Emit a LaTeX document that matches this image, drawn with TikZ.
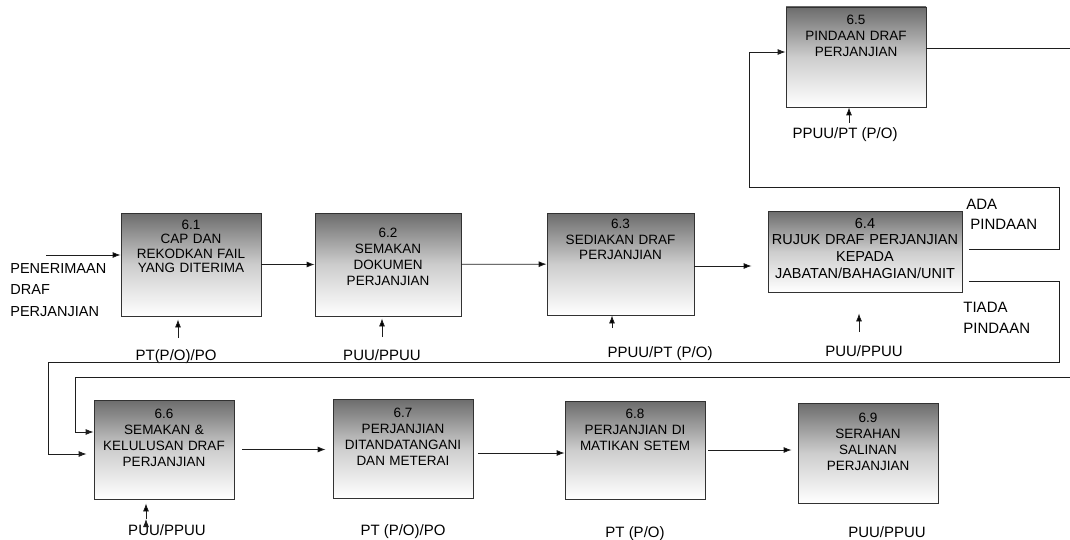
\documentclass[tikz,border=0pt]{standalone}
\usepackage{fontspec}
\setmainfont{Liberation Sans}
\usetikzlibrary{arrows.meta}

\definecolor{boxtop}{RGB}{108,108,108}
\definecolor{boxmid}{RGB}{205,205,205}
\definecolor{boxline}{RGB}{50,50,50}
\definecolor{wire}{RGB}{30,30,30}

\begin{document}
\begin{tikzpicture}[x=1pt, y=-1pt, >={Latex[length=8pt,width=6pt]}, line width=0.8pt]
				\tikzstyle{proc} = [draw=boxline, inner sep=0pt, align=center, top color=boxtop, bottom color=white, middle color=boxmid, font=\fontsize{13.5}{16}\selectfont]
				\tikzstyle{who} = [inner sep=0pt, anchor=base, font=\fontsize{15}{18}\selectfont]
				\tikzstyle{side} = [inner sep=0pt, anchor=west, align=left]
				\useasboundingbox (0,0) rectangle (1070,540);
				
				% proses
				\node[proc, text width=140pt, text height=16pt, text depth=87pt, font=\fontsize{13.5}{14.5}\selectfont] at (191,264.5) (b61) {6.1\\CAP DAN\\REKODKAN FAIL\\YANG DITERIMA};
				\node[proc, text width=146pt, text height=24pt, text depth=79pt] at (388,264.5) (b62) {6.2\\SEMAKAN\\DOKUMEN\\PERJANJIAN};
				\node[proc, text width=147pt, text height=15pt, text depth=87pt] at (620.5,264) (b63) {6.3\\SEDIAKAN DRAF\\PERJANJIAN};
				\node[proc, text width=194pt, text height=17pt, text depth=64pt, font=\fontsize{14.5}{16.7}\selectfont] at (865,251.5) (b64) {6.4\\RUJUK DRAF PERJANJIAN\\KEPADA\\JABATAN/BAHAGIAN/UNIT};
				\node[proc, text width=140pt, text height=18pt, text depth=82pt] at (856,57) (b65) {6.5\\PINDAAN DRAF\\PERJANJIAN};
				\node[proc, text width=140pt, text height=18pt, text depth=81pt] at (164,449.5) (b66) {6.6\\SEMAKAN \&\\KELULUSAN DRAF\\PERJANJIAN};
				\node[proc, text width=140pt, text height=18pt, text depth=81pt] at (403,448.5) (b67) {6.7\\PERJANJIAN\\DITANDATANGANI\\DAN METERAI};
				\node[proc, text width=140pt, text height=17pt, text depth=81pt] at (635,450) (b68) {6.8\\PERJANJIAN DI\\MATIKAN SETEM};
				\node[proc, text width=140pt, text height=19pt, text depth=81pt] at (868,453) (b69) {6.9\\SERAHAN\\SALINAN\\PERJANJIAN};
				
				% pegawai
				\node[who] at (176,360.5) (l61) {PT(P/O)/PO};
				\node[who] at (382,360.5) (l62) {PUU/PPUU};
				\node[who] at (660,357.5) (l63) {PPUU/PT (P/O)};
				\node[who] at (864,356.5) (l64) {PUU/PPUU};
				\node[who] at (845,138.5) (l65) {PPUU/PT (P/O)};
				\node[who] at (167,535.5) (l66) {PUU/PPUU};
				\node[who] at (403,535.5) (l67) {PT (P/O)/PO};
				\node[who] at (635,537.5) (l68) {PT (P/O)};
				\node[who] at (887,537.5) (l69) {PUU/PPUU};
				
				\node[side, font=\fontsize{14.5}{21.5}\selectfont] at (10,290) (lin) {PENERIMAAN\\DRAF\\PERJANJIAN};
				\node[side, font=\fontsize{15}{20}\selectfont] at (966,214) (lada) {ADA\\\hspace*{4pt}PINDAAN};
				\node[side, font=\fontsize{15}{21}\selectfont] at (963,317.5) (ltiada) {TIADA\\PINDAAN};
				
				\coordinate (in61) at (46,255);
				\coordinate (ada) at (969,249);
				\coordinate (tiada) at (969,281);
				\coordinate (upR) at (1059,187);
				\coordinate (upL) at (749,52);
				\coordinate (dnR) at (1059,362);
				\coordinate (dnL) at (48,454);
				\coordinate (out65) at (1070,48);
				\coordinate (in66) at (1070,377);
				\coordinate (lp66) at (75,432);
				\coordinate (a61) at (178,338);
				\coordinate (a62) at (382,337);
				\coordinate (a63) at (612,328);
				\coordinate (a64) at (859,332);
				\coordinate (a65) at (849,123);
				\coordinate (a66) at (146,519);
				
				\path[->, draw=wire]
				(in61)	edge	(in61 -| b61.west)
				(b61)	edge	(b62)
				(b62)	edge	(b63)
				([yshift=-2pt]b63.east)	edge[shorten >=16pt]	([yshift=-2pt]b63.east -| b64.west)
				(b66.east)	edge[shorten <=8pt, shorten >=7pt]	(b66.east -| b67.west)
				([yshift=-4.5pt]b67.east)	edge[shorten <=5pt]	([yshift=-4.5pt]b67.east -| b68.west)
				(b68.east)	edge[shorten <=3pt, shorten >=6pt]	(b68.east -| b69.west)
				(a61)	edge[shorten >=3pt]	(a61 |- b61.south)
				(a62)	edge[shorten >=2pt]	(a62 |- b62.south)
				(a63)	edge	(a63 |- b63.south)
				(a64)	edge[shorten >=21pt]	(a64 |- b64.south)
				(a65)	edge	(a65 |- b65.south)
				(a66)	edge[shorten >=4pt]	(a66 |- b66.south);
				
				\draw[->, wire] (ada) -| (upR) -| (upL) -- ([yshift=5pt]b65.west);
				\draw[->, wire, shorten >=7pt] (tiada) -| (dnR) -| (dnL) -- ([yshift=-4.5pt]b66.west);
				\draw[wire] ([yshift=9pt]b65.east) -- (out65);
				\draw[->, wire] (in66) -| (lp66) -- ([yshift=17.5pt]b66.west);
\end{tikzpicture}
\end{document}
